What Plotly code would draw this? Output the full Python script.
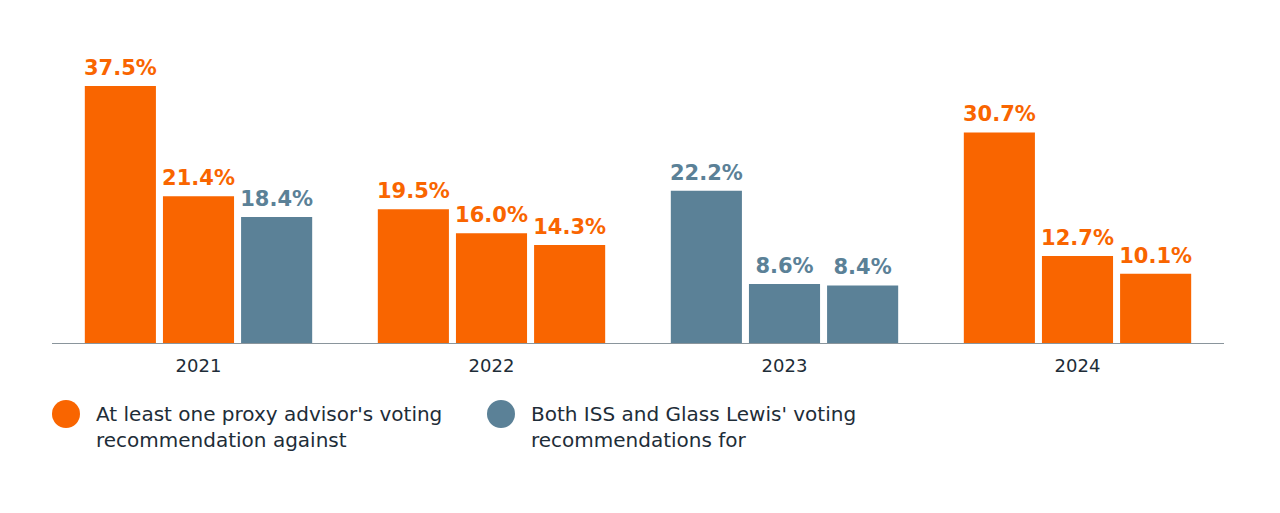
import plotly.graph_objects as go

years = ["2021", "2022", "2023", "2024"]
bar1 = [37.5, 19.5, 22.2, 30.7]
bar2 = [21.4, 16.0, 8.6, 12.7]
bar3 = [18.4, 14.3, 8.4, 10.1]
# category of each bar: "a" = at least one against, "b" = both for
cat1 = ["a", "a", "b", "a"]
cat2 = ["a", "a", "b", "a"]
cat3 = ["b", "a", "b", "a"]
legend_labels = ["At least one proxy advisor's voting<br>recommendation against",
                 "Both ISS and Glass Lewis' voting<br>recommendations for"]

ORANGE = "#F96500"
SLATE = "#5B8197"
TEXT = "#1E2D38"
cmap = {"a": ORANGE, "b": SLATE}

FONT = "DejaVu Sans"
OFF = 8  # page body margin

fig = go.Figure()
for i, (vals, cats) in enumerate([(bar1, cat1), (bar2, cat2), (bar3, cat3)]):
    cols = [cmap[c] for c in cats]
    fig.add_trace(go.Bar(
        x=years, y=vals, offsetgroup=str(i),
        marker=dict(color=cols, line=dict(width=0)),
        showlegend=False, hoverinfo="skip",
    ))
    fig.add_trace(go.Scatter(
        x=years, y=vals, offsetgroup=str(i), mode="markers+text",
        marker=dict(size=8, opacity=0),
        text=[f"{v:.1f}%" for v in vals], textposition="top center",
        textfont=dict(color=cols, size=21, family=FONT, weight="bold"),
        cliponaxis=False, showlegend=False, hoverinfo="skip",
    ))

W, H = 1280, 513
L = 52 - OFF
T = 40 - OFF
R = W - (1224 - OFF)
B = H - (343 - OFF)
pw = W - L - R
ph = H - T - B

def px(xp):
    return (xp - OFF - L) / pw

def py(yp):
    return (H - B - (yp - OFF)) / ph

shapes = []
annotations = []
for i, (cx, col) in enumerate([(66, ORANGE), (501, SLATE)]):
    r = 14
    shapes.append(dict(type="circle", xref="paper", yref="paper",
                       x0=px(cx - r), x1=px(cx + r), y0=py(414 + r), y1=py(414 - r),
                       fillcolor=col, line=dict(width=0)))
    annotations.append(dict(xref="paper", yref="paper", x=px(cx + 28), y=py(400),
                            xanchor="left", yanchor="top", align="left",
                            text=legend_labels[i], showarrow=False,
                            font=dict(size=20, color=TEXT, family=FONT)))

fig.update_layout(
    width=W, height=H,
    margin=dict(l=L, r=R, t=T, b=B),
    paper_bgcolor="white", plot_bgcolor="white",
    barmode="group", bargap=0.2, bargroupgap=0.09,
    scattermode="group", scattergap=0.2,
    font=dict(family=FONT, color=TEXT),
    xaxis=dict(showline=True, linecolor="#8A959C", linewidth=1,
               ticks="", tickfont=dict(size=18, color=TEXT, family=FONT),
               ticklabelstandoff=6, showgrid=False),
    yaxis=dict(range=[0, ph / 6.853], visible=False, showgrid=False, zeroline=False),
    shapes=shapes, annotations=annotations,
)

fig.write_html("out.html")
